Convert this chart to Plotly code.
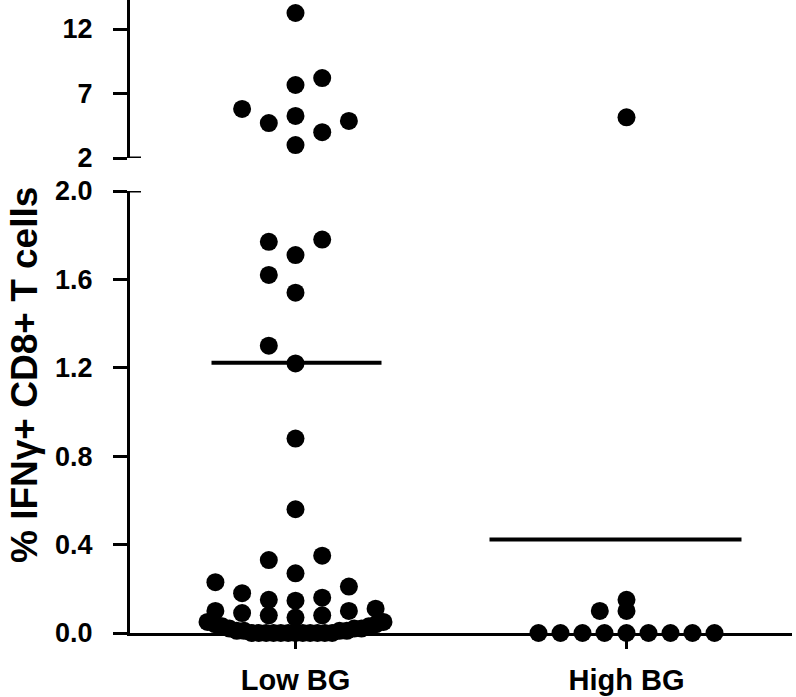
import numpy as np
import plotly.graph_objects as go

# ---------------- data ----------------
categories = ["Low BG", "High BG"]
low_bg = [13.24, 7.66, 8.2, 5.26, 5.8, 4.71, 4.87, 4.0, 3.0,
          1.78, 1.77, 1.71, 1.62, 1.54, 1.30, 1.22, 0.88, 0.56, 0.35, 0.33, 0.27,
          0.23, 0.21, 0.18, 0.16, 0.15, 0.146,
          0.11, 0.10, 0.10, 0.09, 0.08, 0.08, 0.07,
          0.05, 0.05, 0.04, 0.04, 0.03, 0.03, 0.02, 0.02, 0.02,
          0.01, 0.01, 0.01, 0.01,
          0.0, 0.0, 0.0, 0.0, 0.0, 0.0, 0.0, 0.0, 0.0, 0.0, 0.0, 0.0]
high_bg = [5.15, 0.15, 0.10, 0.10,
           0.0, 0.0, 0.0, 0.0, 0.0, 0.0, 0.0, 0.0, 0.0]
lower_ticks = [0.0, 0.4, 0.8, 1.2, 1.6, 2.0]
upper_ticks = [2, 7, 12]
y_title = "% IFNγ+ CD8+ T cells"

# ---------------- layout constants ----------------
FIG_W, FIG_H = 796, 697
M_L, M_R, M_T, M_B = 130, 4, 0, 64
PW, PH = FIG_W - M_L - M_R, FIG_H - M_T - M_B
LOWER_RANGE = [0, 2.0]
LOWER_DOM = [0, 442 / PH]
UPPER_DOM = [475 / PH, 1]
UPPER_PX_PER_UNIT = 12.9
UPPER_RANGE = [2, 2 + (UPPER_DOM[1] - UPPER_DOM[0]) * PH / UPPER_PX_PER_UNIT]
X_RANGE = [-0.5, 1.5]
BREAK = 2.0
FONT = "Liberation Sans, Arial, Helvetica, sans-serif"
MARKER = 18
STEP = 26.7          # horizontal slot spacing, px
BIN_H = 20.0         # bin height, px (crowded low rows)
BIN_ORIGIN = 12.0    # first bin edge above zero, px
BIN_TOP = 55.0       # rows above this height are stacked in columns, px
MAX_HALF = 88.0      # max half width of a crowded row, px
COL_DY = 25.0        # vertical clearance in a column, px

px_x = PW / (X_RANGE[1] - X_RANGE[0])
px_low = (LOWER_DOM[1] - LOWER_DOM[0]) * PH / (LOWER_RANGE[1] - LOWER_RANGE[0])


def slot_seq(n):
    out = [0]
    k = 1
    while len(out) < n:
        out += [-k, k]
        k += 1
    return out[:n]


def binned_offsets(vals, ypx):
    """GraphPad-like rows: values binned by height, spread in slots."""
    bins = {}
    for idx, y in enumerate(ypx):
        b = 0 if y < BIN_ORIGIN else 1 + int((y - BIN_ORIGIN) // BIN_H)
        bins.setdefault(b, []).append(idx)
    offs = [0.0] * len(vals)
    for b, idxs in bins.items():
        idxs = sorted(idxs, key=lambda i: vals[i])
        slots = slot_seq(len(idxs))
        kmax = max(abs(s) for s in slots) or 1
        step = min(STEP, MAX_HALF / kmax)
        for i, s in zip(idxs, slots):
            offs[i] = s * step
    return offs


def column_offsets(vals, ypx, first_side):
    order = sorted(range(len(vals)), key=lambda i: vals[i])
    cols = {}
    offs = [0.0] * len(vals)
    for i in order:
        k = 1
        cand = [0]
        while True:
            placed = False
            for s in cand:
                if all(abs(ypx[i] - yy) >= COL_DY for yy in cols.get(s, [])):
                    cols.setdefault(s, []).append(ypx[i])
                    offs[i] = s * STEP
                    placed = True
                    break
            if placed:
                break
            cand = [first_side * k, -first_side * k]
            k += 1
    return offs


fig = go.Figure()
mk = dict(size=MARKER, color="black", line=dict(width=0))
for i, vals in enumerate([low_bg, high_bg]):
    low_rows = [v for v in vals if v * px_low < BIN_TOP]
    mid = [v for v in vals if v * px_low >= BIN_TOP and v < BREAK]
    up = [v for v in vals if v >= BREAK]
    rows_x = [i + o / px_x for o in binned_offsets(low_rows, [v * px_low for v in low_rows])]
    mid_x = [i + o / px_x for o in column_offsets(mid, [v * px_low for v in mid], -1)]
    up_x = [i + o / px_x for o in column_offsets(
        up, [(v - BREAK) * UPPER_PX_PER_UNIT for v in up], 1)]
    fig.add_trace(go.Scatter(x=rows_x + mid_x, y=low_rows + mid, mode="markers", marker=mk,
                             xaxis="x", yaxis="y", cliponaxis=False, showlegend=False,
                             hoverinfo="skip"))
    fig.add_trace(go.Scatter(x=up_x, y=up, mode="markers", marker=mk,
                             xaxis="x", yaxis="y2", cliponaxis=False, showlegend=False,
                             hoverinfo="skip"))

# mean lines
mean_half = [(-84, 86), (-137, 115)]   # px extents around category
for i, vals in enumerate([low_bg, high_bg]):
    m = float(np.mean(vals))
    fig.add_shape(type="line", xref="x", yref="y",
                  x0=i + mean_half[i][0] / px_x, x1=i + mean_half[i][1] / px_x,
                  y0=m, y1=m, line=dict(color="black", width=4))

# axis break caps
cap = 11 / PW
fig.add_shape(type="line", xref="paper", yref="y", x0=0, x1=cap,
              y0=LOWER_RANGE[1], y1=LOWER_RANGE[1], line=dict(color="black", width=3))
fig.add_shape(type="line", xref="paper", yref="y2", x0=0, x1=cap,
              y0=UPPER_RANGE[0], y1=UPPER_RANGE[0], line=dict(color="black", width=3))

ytick_font = dict(family=FONT, size=27, color="black", weight="bold")
common_y = dict(showline=True, linewidth=3, linecolor="black", ticks="outside",
                ticklen=14, tickwidth=3, tickcolor="black", showgrid=False,
                zeroline=False, tickfont=ytick_font, ticklabelstandoff=15,
                anchor="x", automargin=False, tickmode="array")
fig.update_layout(
    width=FIG_W, height=FIG_H,
    margin=dict(l=M_L, r=M_R, t=M_T, b=M_B, autoexpand=False),
    paper_bgcolor="white", plot_bgcolor="white",
    font=dict(family=FONT, color="black"),
    xaxis=dict(range=X_RANGE, tickmode="array", tickvals=[0, 1], ticktext=categories,
               showline=True, linewidth=3, linecolor="black", ticks="outside",
               ticklen=13, tickwidth=3, tickcolor="black", showgrid=False, zeroline=False,
               tickfont=dict(family=FONT, size=29, color="black", weight="bold"),
               ticklabelstandoff=6, anchor="y", automargin=False),
    yaxis=dict(domain=LOWER_DOM, range=LOWER_RANGE, tickvals=lower_ticks,
               ticktext=[f"{t:.1f}" for t in lower_ticks], **common_y),
    yaxis2=dict(domain=UPPER_DOM, range=UPPER_RANGE, tickvals=upper_ticks,
                ticktext=[str(t) for t in upper_ticks], **common_y),
    annotations=[dict(text=y_title, xref="paper", yref="paper",
                      x=(24 - M_L) / PW,
                      y=(PH - 375) / PH, xanchor="center", yanchor="middle",
                      textangle=-90, showarrow=False,
                      font=dict(family=FONT, size=37, color="black", weight="bold"))],
)

# remove the page's default body margin so the figure sits at the window's corner
fig.write_html("out.html", config={"displayModeBar": False, "staticPlot": True},
               post_script="document.body.style.margin='0';")
